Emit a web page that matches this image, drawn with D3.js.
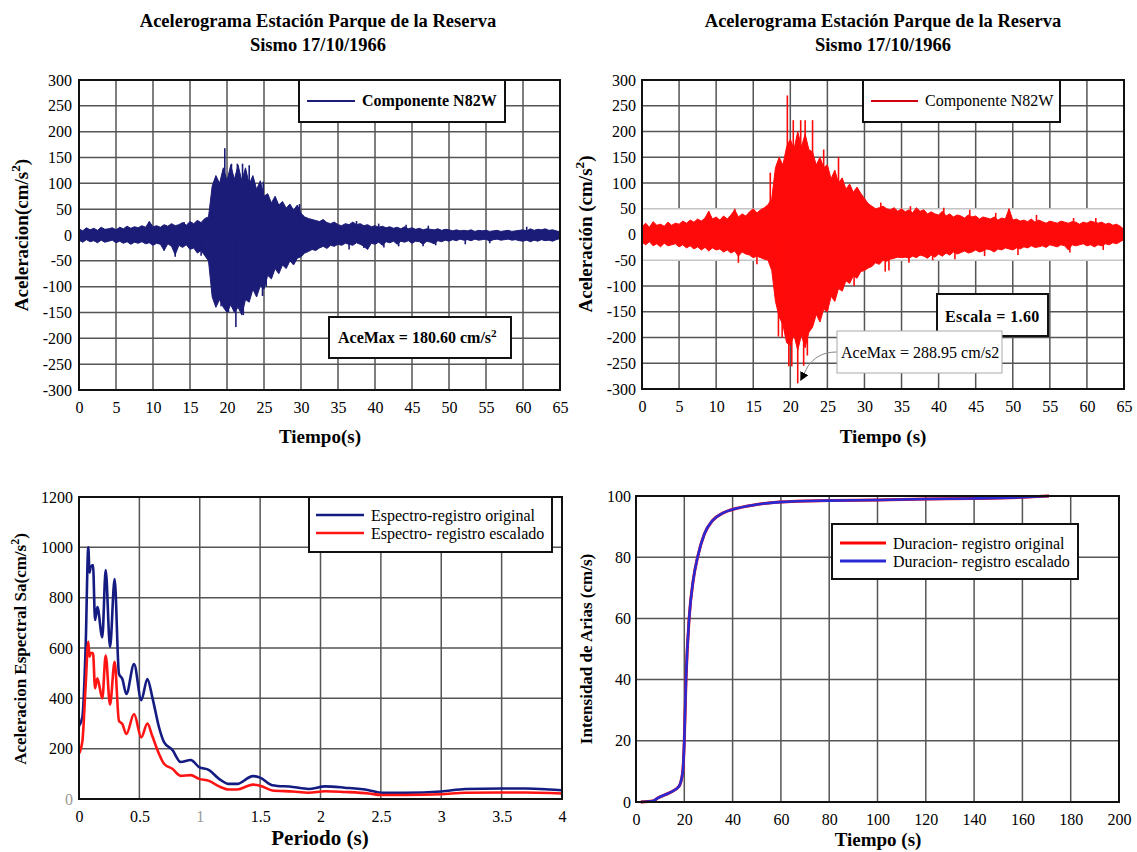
<!DOCTYPE html>
<meta charset="utf-8">
<style>
body { margin: 0; background: #fff; }
svg { font-family: "Liberation Serif", "Times New Roman", serif; }
.grid line { stroke: #555; stroke-width: 1.5; }
.axis path, .axis line { display: none; }
.ttl { font-weight: bold; fill: #000; }
.leg { font-size: 16px; fill: #000; }
</style>
<body>
<script src="https://d3js.org/d3.v7.min.js"></script>
<script>
// ---- acelerogramas: envolventes leidas cada 0.5 s (0 .. 65 s)
var tiempo = d3.range(0, 65.01, 0.5);

var origSup = [
  12,8,14,10,13,9,15,11,12,14,
  10,15,12,17,13,16,14,18,15,26,
  16,18,15,20,17,22,18,20,24,19,
  26,22,28,24,32,35,95,115,100,130,
  105,135,108,135,105,130,98,115,88,105,
  75,80,62,75,58,65,52,60,48,58,
  42,35,32,30,28,26,30,24,22,25,
  20,18,22,20,25,20,22,18,20,16,
  18,15,17,14,16,13,15,12,16,12,
  14,11,13,10,12,11,10,12,9,11,
  10,8,10,8,9,8,10,7,9,8,
  9,7,8,9,7,8,9,7,8,9,
  10,8,12,9,11,10,12,9,10,8,
  6];
var origInf = [
  -10,-14,-9,-13,-11,-15,-10,-14,-12,-10,
  -15,-12,-16,-13,-18,-14,-16,-13,-17,-15,
  -20,-16,-18,-30,-17,-22,-38,-20,-24,-19,
  -28,-25,-35,-30,-40,-50,-120,-140,-125,-140,
  -150,-135,-150,-140,-155,-125,-130,-105,-120,-98,
  -105,-78,-85,-65,-75,-58,-65,-50,-58,-45,
  -42,-35,-32,-28,-30,-25,-22,-26,-20,-22,
  -18,-20,-16,-18,-20,-15,-18,-22,-28,-16,
  -18,-14,-20,-13,-15,-12,-18,-12,-14,-11,
  -16,-12,-13,-18,-12,-14,-17,-11,-13,-10,
  -12,-9,-11,-8,-10,-9,-11,-8,-10,-9,
  -8,-12,-9,-8,-10,-9,-8,-10,-9,-11,
  -12,-10,-13,-10,-12,-9,-11,-10,-12,-9,
  -7];
var origPicoT = [19.7, 20.6, 21.4, 22.1, 23.0, 24.9, 21.2, 20.2, 22.2, 19.2, 24.8, 13.0, 11.5, 16.5,
  9.5, 14.2, 16.0, 37.5, 40.5, 44.2, 47.2, 60.5, 36.5, 38.5, 41.2, 43.2, 46.5, 48.2, 52.2, 55.5, 29.8, 25.3];
var origPicoV = [168, 138, 138, 138, 135, 103, -178, -150, -155, -138, -118, -42, -30, -40,
  26, 25, 28, 27, 22, 20, 18, 16, -28, -25, -24, -22, -22, -20, -18, -16, 60, -100];

var escSup = [
  15,22,14,25,18,20,16,24,18,22,
  20,26,22,28,24,30,26,32,45,30,
  34,28,36,30,38,48,34,40,36,44,
  50,42,48,52,58,70,130,150,135,170,
  185,165,200,170,195,165,160,135,150,130,
  135,108,125,100,110,88,98,82,92,80,
  70,60,55,50,52,55,50,48,52,45,
  50,44,48,42,52,45,48,40,44,40,
  38,45,36,40,34,38,36,32,38,34,
  36,30,34,32,30,34,28,32,30,50,
  28,30,26,28,25,30,24,28,25,22,
  26,24,22,26,24,22,25,24,20,24,
  22,26,24,22,24,20,22,18,20,16,
  10];
var escInf = [
  -15,-20,-14,-22,-18,-24,-17,-22,-20,-18,
  -24,-20,-26,-22,-28,-24,-30,-25,-32,-26,
  -30,-28,-34,-30,-36,-32,-42,-34,-38,-40,
  -45,-42,-45,-48,-50,-70,-130,-160,-175,-210,
  -215,-195,-225,-195,-220,-190,-180,-155,-170,-145,
  -150,-120,-130,-105,-110,-90,-95,-80,-85,-72,
  -70,-65,-62,-55,-58,-50,-52,-48,-46,-44,
  -45,-44,-46,-42,-45,-40,-42,-46,-40,-44,
  -38,-42,-36,-40,-34,-38,-35,-32,-36,-34,
  -30,-34,-32,-28,-30,-34,-28,-30,-26,-28,
  -30,-26,-28,-24,-26,-22,-25,-24,-22,-25,
  -20,-22,-24,-20,-22,-30,-20,-22,-20,-18,
  -22,-20,-24,-20,-22,-18,-20,-16,-18,-14,
  -10];
var escPicoT = [19.6, 20.4, 21.4, 22.0, 23.0, 24.5, 18.4, 18.9, 19.8, 20.2, 21.0, 21.8, 22.3, 13.0, 15.5, 28.6, 32.8, 33.3, 9.0, 12.5, 49.5,
  32.2, 36.2, 40.7, 44.2, 47.7, 53.2, 58.2, 61.2, 36.0, 39.2, 42.2, 46.2, 50.7, 57.7, 62.2, 17.3, 26.5];
var escPicoV = [270, 222, 222, 222, 222, 165, -198, -200, -256, -256, -288.95, -255, -235, -55, -58, -100, -72, -70, 45, 50, 50,
  62, 55, 52, 48, 42, 38, 32, 32, -55, -50, -48, -42, -40, -35, -30, 120, 150];
var aceMaxT = 21.0, aceMaxV = -288.95;

// ---- espectros
var periodo = [0,0.028,0.055,0.077,0.087,0.097,0.116,0.133,0.152,0.193,
  0.221,0.257,0.295,0.331,0.359,0.392,0.456,0.516,0.566,0.607,
  0.662,0.704,0.773,0.842,0.925,0.994,1.077,1.16,1.24,1.31,
  1.44,1.5,1.6,1.77,1.9,2.04,2.2,2.4,2.5,2.7,
  3.0,3.2,3.5,3.7,3.9,4.0];
var saOriginal = [290,326,604,1000,900,922,930,711,763,643,
  910,604,874,497,477,417,536,393,477,405,
  286,226,195,147,155,127,115,80,60,60,
  91,85,55,48,40,50,45,35,25,25,
  30,40,42,42,38,35];
var saEscalado = [180,230,450,625,565,580,580,440,480,400,
  570,375,545,310,298,258,338,245,300,250,
  180,140,120,92,95,80,72,50,38,38,
  57,53,34,30,25,31,28,22,16,16,
  19,25,26,26,24,22];

// ---- intensidad de Arias (%)
var tiempoArias = [2,7,9,13.8,17.7,19.3,20,20.7,22,23.7,25.5,28.3,31.7,35.9,41.4,48.3,59.4,80,100,120,140,160,171];
var ariasOriginal = [0,0.3,1.3,3,5,9.5,20,40,60,72.5,80,87.6,92,94.4,95.9,97,98,98.5,98.7,99,99.2,99.6,100];
var ariasEscalado = [0,0.3,1.3,3,5,9.5,20,40,60,72.5,80,87.6,92,94.4,95.9,97,98,98.5,98.7,99,99.2,99.6,100];

var tAcel = d3.range(0, 66, 5), yAcel = d3.range(-300, 301, 50);

var svg = d3.select("body").append("svg").attr("width", 1137).attr("height", 852);

function panel(box, x, y, xt, yt, padX, padY) {
  var w = box.r - box.l, h = box.b - box.t;
  x.range([0, w]); y.range([h, 0]);
  var g = svg.append("g").attr("transform", "translate(" + box.l + "," + box.t + ")");
  g.append("rect").attr("width", w).attr("height", h).attr("fill", "#fff");
  var grid = g.append("g").attr("class", "grid");
  grid.selectAll(".gv").data(xt).enter().append("line")
    .attr("x1", function(d) { return x(d); }).attr("x2", function(d) { return x(d); })
    .attr("y1", 0).attr("y2", h);
  grid.selectAll(".gh").data(yt).enter().append("line")
    .attr("y1", function(d) { return y(d); }).attr("y2", function(d) { return y(d); })
    .attr("x1", 0).attr("x2", w);
  var fmt = function(d) { return d; };
  g.append("g").attr("class", "axis ax-x").attr("transform", "translate(0," + h + ")")
    .call(d3.axisBottom(x).tickValues(xt).tickSize(0).tickPadding(padX).tickFormat(fmt));
  g.append("g").attr("class", "axis ax-y")
    .call(d3.axisLeft(y).tickValues(yt).tickSize(0).tickPadding(padY).tickFormat(fmt));
  g.selectAll(".axis").attr("font-family", null).attr("font-size", null);
  g.selectAll(".axis text")
    .style("font-family", "'Liberation Serif', 'Times New Roman', serif")
    .style("font-size", "16px").style("fill", "#000");
  g.w = w; g.h = h;
  return g;
}

function frame(g) {
  g.append("rect").attr("width", g.w).attr("height", g.h)
    .attr("fill", "none").attr("stroke", "#111").attr("stroke-width", 2);
}

function supLabel(sel, before, after, size) {
  sel.append("tspan").text(before);
  sel.append("tspan").attr("dy", -size * 0.4).attr("font-size", size * 0.7).text("2");
  sel.append("tspan").attr("dy", size * 0.4).text(after);
}

function trace(g, x, y, sup, inf, pt, pv, color) {
  var idx = d3.range(tiempo.length);
  g.append("path").datum(idx)
    .attr("d", d3.area()
      .x(function(i) { return x(tiempo[i]); })
      .y0(function(i) { return y(inf[i]); })
      .y1(function(i) { return y(sup[i]); }))
    .attr("fill", color).attr("stroke", color).attr("stroke-width", 1);
  g.selectAll(null).data(pt).enter().append("line")
    .attr("x1", function(d) { return x(d); }).attr("x2", function(d) { return x(d); })
    .attr("y1", y(0)).attr("y2", function(d, i) { return y(pv[i]); })
    .attr("stroke", color).attr("stroke-width", 1.6);
}

function title(cx) {
  svg.append("text").attr("class", "ttl").attr("x", cx).attr("y", 27).attr("text-anchor", "middle")
    .attr("font-size", 18.5).text("Acelerograma Estación Parque de la Reserva");
  svg.append("text").attr("class", "ttl").attr("x", cx).attr("y", 51).attr("text-anchor", "middle")
    .attr("font-size", 18.5).text("Sismo 17/10/1966");
}

// ================= panel 1: registro original
var x1 = d3.scaleLinear().domain([0, 65]), y1 = d3.scaleLinear().domain([-300, 300]);
var g1 = panel({l: 79, r: 560, t: 80, b: 390}, x1, y1, tAcel, yAcel, 12, 7);
trace(g1, x1, y1, origSup, origInf, origPicoT, origPicoV, "#1b1b78");
frame(g1);
title(318);
svg.append("text").attr("class", "ttl").attr("x", 320).attr("y", 443).attr("text-anchor", "middle")
  .attr("font-size", 19).text("Tiempo(s)");
supLabel(svg.append("text").attr("class", "ttl").attr("text-anchor", "middle").attr("font-size", 19)
  .attr("transform", "translate(28,235) rotate(-90)"), "Aceleracion(cm/s", ")", 19);

g1.append("rect").attr("x", 220).attr("y", 0).attr("width", 206).attr("height", 42)
  .attr("fill", "#fff").attr("stroke", "#111").attr("stroke-width", 2);
g1.append("line").attr("x1", 228).attr("x2", 276).attr("y1", 21).attr("y2", 21)
  .attr("stroke", "#1b1b78").attr("stroke-width", 2);
g1.append("text").attr("class", "leg ttl").attr("x", 283).attr("y", 26).text("Componente N82W");
g1.append("rect").attr("x", 250).attr("y", 237).attr("width", 182).attr("height", 41)
  .attr("fill", "#fff").attr("stroke", "#111").attr("stroke-width", 2);
supLabel(g1.append("text").attr("class", "leg ttl").attr("x", 259).attr("y", 263), "AceMax = 180.60 cm/s", "", 16);

// ================= panel 2: registro escalado
var x2 = d3.scaleLinear().domain([0, 65]), y2 = d3.scaleLinear().domain([-300, 300]);
var g2 = panel({l: 642, r: 1124, t: 80, b: 389}, x2, y2, tAcel, yAcel, 12, 6);
g2.append("rect").attr("x", 0).attr("y", y2(50)).attr("width", g2.w).attr("height", y2(-50) - y2(50))
  .attr("fill", "#fff").attr("stroke", "#c4c4c4").attr("stroke-width", 1.5);
trace(g2, x2, y2, escSup, escInf, escPicoT, escPicoV, "#ff0a0a");
frame(g2);
title(883);
svg.append("text").attr("class", "ttl").attr("x", 883).attr("y", 443).attr("text-anchor", "middle")
  .attr("font-size", 19).text("Tiempo (s)");
supLabel(svg.append("text").attr("class", "ttl").attr("text-anchor", "middle").attr("font-size", 19)
  .attr("transform", "translate(592,234) rotate(-90)"), "Aceleración (cm/s", ")", 19);

g2.append("rect").attr("x", 221).attr("y", 0).attr("width", 197).attr("height", 42)
  .attr("fill", "#fff").attr("stroke", "#111").attr("stroke-width", 2);
g2.append("line").attr("x1", 229).attr("x2", 276).attr("y1", 21).attr("y2", 21)
  .attr("stroke", "#d00010").attr("stroke-width", 2);
g2.append("text").attr("class", "leg").attr("x", 283).attr("y", 26).text("Componente N82W");
g2.append("rect").attr("x", 295).attr("y", 214).attr("width", 111).attr("height", 42)
  .attr("fill", "#fff").attr("stroke", "#111").attr("stroke-width", 2);
g2.append("text").attr("class", "leg ttl").attr("x", 303).attr("y", 242).attr("letter-spacing", 0.4).text("Escala = 1.60");
svg.append("defs").append("marker").attr("id", "flecha").attr("viewBox", "0 0 10 10")
  .attr("refX", 9).attr("refY", 5).attr("markerWidth", 9).attr("markerHeight", 9).attr("orient", "auto")
  .attr("markerUnits", "userSpaceOnUse")
  .append("path").attr("d", "M0,0 L10,5 L0,10 z").attr("fill", "#000");
var ax = x2(aceMaxT), ay = y2(aceMaxV);
g2.append("path")
  .attr("d", "M195,272 C180,272 172,278 166,286 L" + (ax + 3) + "," + (ay - 3))
  .attr("fill", "none").attr("stroke", "#888").attr("stroke-width", 1)
  .attr("marker-end", "url(#flecha)");
g2.append("rect").attr("x", 195).attr("y", 251).attr("width", 165).attr("height", 42)
  .attr("fill", "#fff").attr("stroke", "#aaa").attr("stroke-width", 1);
g2.append("text").attr("class", "leg").attr("x", 199).attr("y", 278).text("AceMax = 288.95 cm/s2");

// ================= panel 3: espectros
var x3 = d3.scaleLinear().domain([0, 4]), y3 = d3.scaleLinear().domain([0, 1200]);
var g3 = panel({l: 79, r: 562, t: 497, b: 799}, x3, y3, d3.range(0, 4.01, 0.5), d3.range(0, 1201, 200), 12, 6);
g3.selectAll(".ax-x text").filter(function(d) { return d === 1; }).style("fill", "#9a9a9a");
g3.selectAll(".ax-y text").filter(function(d) { return d === 0; }).style("fill", "#9a9a9a");
var line3o = d3.line().x(function(d, i) { return x3(periodo[i]); }).y(function(d) { return y3(d); }).curve(d3.curveMonotoneX);
g3.append("path").datum(saOriginal).attr("d", line3o).attr("fill", "none")
  .attr("stroke", "#141c82").attr("stroke-width", 2.6);
g3.append("path").datum(saEscalado).attr("d", line3o).attr("fill", "none")
  .attr("stroke", "#ff1414").attr("stroke-width", 2.6);
frame(g3);
svg.append("text").attr("class", "ttl").attr("x", 320).attr("y", 845).attr("text-anchor", "middle")
  .attr("font-size", 21).text("Periodo (s)");
supLabel(svg.append("text").attr("class", "ttl").attr("text-anchor", "middle").attr("font-size", 17)
  .attr("transform", "translate(26,649) rotate(-90)"), "Aceleracion Espectral Sa(cm/s", ")", 17);

g3.append("rect").attr("x", 230).attr("y", 0).attr("width", 243).attr("height", 55)
  .attr("fill", "#fff").attr("stroke", "#111").attr("stroke-width", 2);
g3.append("line").attr("x1", 237).attr("x2", 285).attr("y1", 18).attr("y2", 18)
  .attr("stroke", "#141c82").attr("stroke-width", 2.6);
g3.append("line").attr("x1", 237).attr("x2", 285).attr("y1", 36).attr("y2", 36)
  .attr("stroke", "#ff1414").attr("stroke-width", 2.6);
g3.append("text").attr("class", "leg").attr("x", 292).attr("y", 24).text("Espectro-registro original");
g3.append("text").attr("class", "leg").attr("x", 292).attr("y", 42).text("Espectro- registro escalado");

// ================= panel 4: intensidad de Arias
var x4 = d3.scaleLinear().domain([0, 200]), y4 = d3.scaleLinear().domain([0, 100]);
var g4 = panel({l: 636, r: 1119, t: 496, b: 802}, x4, y4, d3.range(0, 201, 20), d3.range(0, 101, 20), 12, 5);
var line4 = d3.line().x(function(d, i) { return x4(tiempoArias[i]); }).y(function(d) { return y4(d); }).curve(d3.curveMonotoneX);
g4.append("path").datum(ariasOriginal).attr("d", line4).attr("fill", "none")
  .attr("stroke", "#ff0000").attr("stroke-width", 3);
g4.append("path").datum(ariasEscalado).attr("d", line4).attr("fill", "none")
  .attr("stroke", "#2a2ad4").attr("stroke-width", 2.6);
frame(g4);
svg.append("text").attr("class", "ttl").attr("x", 878).attr("y", 846).attr("text-anchor", "middle")
  .attr("font-size", 19).text("Tiempo (s)");
svg.append("text").attr("class", "ttl").attr("text-anchor", "middle").attr("font-size", 17)
  .attr("transform", "translate(592,649) rotate(-90)").text("Intensidad de Arias (cm/s)");

g4.append("rect").attr("x", 196).attr("y", 28).attr("width", 246).attr("height", 55)
  .attr("fill", "#fff").attr("stroke", "#111").attr("stroke-width", 2);
g4.append("line").attr("x1", 204).attr("x2", 250).attr("y1", 47).attr("y2", 47)
  .attr("stroke", "#ff0000").attr("stroke-width", 3);
g4.append("line").attr("x1", 204).attr("x2", 250).attr("y1", 65).attr("y2", 65)
  .attr("stroke", "#2a2ad4").attr("stroke-width", 3);
g4.append("text").attr("class", "leg").attr("x", 257).attr("y", 53).text("Duracion- registro original");
g4.append("text").attr("class", "leg").attr("x", 257).attr("y", 71).text("Duracion- registro escalado");
</script>
</body>
